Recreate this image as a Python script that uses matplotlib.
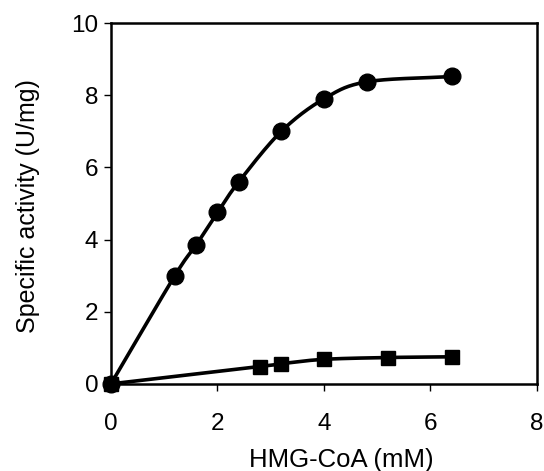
import numpy as np
from matplotlib import pyplot as plt

# data
hmg_circle = [0, 1.2, 1.6, 2.0, 2.4, 3.2, 4.0, 4.8, 6.4]
act_circle = [0, 3.0, 3.85, 4.75, 5.6, 7.0, 7.9, 8.37, 8.52]
hmg_square = [0, 2.8, 3.2, 4.0, 5.2, 6.4]
act_square = [0, 0.48, 0.56, 0.68, 0.73, 0.75]


# Catmull-Rom smoothing, roughly like a spreadsheet "smoothed line"
def smooth(xs, ys, n=30):
    x = np.asarray(xs, float)
    y = np.asarray(ys, float)
    px = np.concatenate([[2 * x[0] - x[1]], x, [2 * x[-1] - x[-2]]])
    py = np.concatenate([[2 * y[0] - y[1]], y, [2 * y[-1] - y[-2]]])
    outx, outy = [], []
    t = np.linspace(0, 1, n)
    for i in range(1, len(px) - 2):
        for arr, out in ((px, outx), (py, outy)):
            p0, p1, p2, p3 = arr[i - 1], arr[i], arr[i + 1], arr[i + 2]
            out.extend(0.5 * ((2 * p1) + (-p0 + p2) * t
                              + (2 * p0 - 5 * p1 + 4 * p2 - p3) * t**2
                              + (-p0 + 3 * p1 - 3 * p2 + p3) * t**3))
    return outx, outy


plt.rcParams['font.family'] = ['Liberation Sans', 'DejaVu Sans']

fig = plt.figure(figsize=(5.44, 4.71), dpi=100)
ax = fig.add_axes([0.204, 0.185, 0.783, 0.766])

sx, sy = smooth(hmg_circle, act_circle)
ax.plot(sx, sy, color="black", lw=2.6, zorder=2)
ax.plot(hmg_circle, act_circle, "o", color="black", ms=12, zorder=3)

sx, sy = smooth(hmg_square, act_square)
ax.plot(sx, sy, color="black", lw=2.6, zorder=2)
ax.plot(hmg_square, act_square, "s", color="black", ms=10.5, zorder=3)

ax.set_xlim(0, 8)
ax.set_ylim(0, 10)
ax.set_xticks([0, 2, 4, 6, 8])
ax.set_yticks([0, 2, 4, 6, 8, 10])
ax.tick_params(direction="out", width=1, labelsize=17.5)
ax.tick_params(axis="y", length=5, pad=4)
ax.tick_params(axis="x", length=5, pad=16)
for s in ax.spines.values():
    s.set_linewidth(1.8)

# axis titles placed as figure text to match the reference positions
fig.text(341 / 544, 1 - 467 / 471, "HMG-CoA (mM)", fontsize=18.5,
         ha="center", va="baseline")
fig.text(28 / 544, 1 - 206 / 471, "Specific activity (U/mg)", fontsize=18,
         rotation=90, ha="center", va="center")

for a in ax.lines:
    a.set_clip_on(False)

plt.savefig("out.png", dpi=100)
